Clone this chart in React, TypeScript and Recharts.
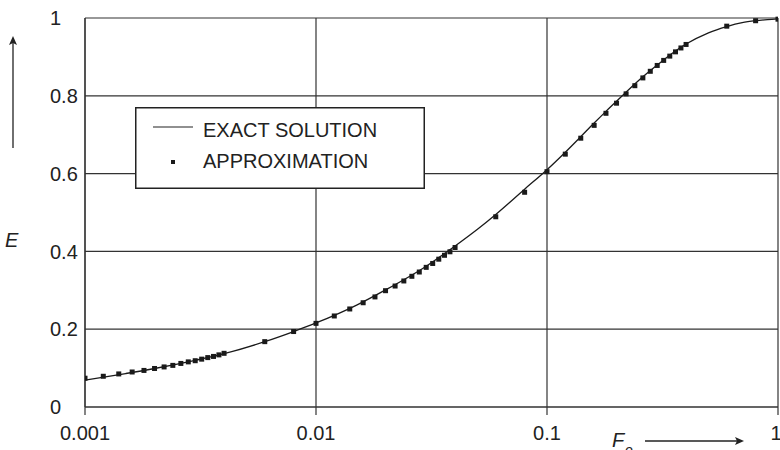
import React from 'react';
import { ComposedChart, Line, Scatter, XAxis, YAxis, CartesianGrid, Legend, Label } from 'recharts';

// Exact solution
const exactFo = [0.001, 0.0015, 0.002, 0.003, 0.004, 0.006, 0.008, 0.01, 0.015, 0.02, 0.03, 0.04, 0.05, 0.06, 0.08, 0.1, 0.12, 0.14, 0.16, 0.18, 0.2, 0.25, 0.3, 0.35, 0.4, 0.5, 0.6, 0.7, 0.8, 0.9, 1.0];
const exactE = [0.069, 0.086, 0.099, 0.120, 0.137, 0.168, 0.194, 0.216, 0.262, 0.301, 0.362, 0.414, 0.457, 0.495, 0.560, 0.610, 0.655, 0.695, 0.730, 0.760, 0.786, 0.840, 0.879, 0.910, 0.933, 0.962, 0.978, 0.988, 0.993, 0.996, 0.998];

// Approximation (square markers)
const approxFo = [
  0.001, 0.0012, 0.0014, 0.0016, 0.0018, 0.002, 0.0022, 0.0024, 0.0026, 0.0028, 0.003, 0.0032, 0.0034, 0.0036, 0.0038, 0.004,
  0.006, 0.008,
  0.01, 0.012, 0.014, 0.016, 0.018, 0.02, 0.022, 0.024, 0.026, 0.028, 0.03, 0.032, 0.034, 0.036, 0.038, 0.04,
  0.06, 0.08,
  0.1, 0.12, 0.14, 0.16, 0.18, 0.2, 0.22, 0.24, 0.26, 0.28, 0.3, 0.32, 0.34, 0.36, 0.38, 0.4,
  0.6, 0.8, 1.0,
];
const approxE = [
  0.074, 0.079, 0.085, 0.090, 0.094, 0.099, 0.103, 0.107, 0.112, 0.116, 0.119, 0.123, 0.127, 0.130, 0.134, 0.138,
  0.168, 0.194,
  0.215, 0.234, 0.252, 0.268, 0.283, 0.299, 0.311, 0.324, 0.336, 0.347, 0.359, 0.369, 0.380, 0.390, 0.399, 0.410,
  0.489, 0.552,
  0.605, 0.650, 0.691, 0.724, 0.755, 0.781, 0.805, 0.826, 0.846, 0.863, 0.878, 0.891, 0.902, 0.913, 0.923, 0.932,
  0.979, 0.993, 0.997,
];

const xTicks = [0.001, 0.01, 0.1, 1];
const xTickLabels = ['0.001', '0.01', '0.1', '1'];
const yTicks = [0, 0.2, 0.4, 0.6, 0.8, 1];
const yTickLabels = ['0', '0.2', '0.4', '0.6', '0.8', '1'];

const seriesNames = ['EXACT SOLUTION', 'APPROXIMATION'];

const exactData = exactFo.map((fo, i) => ({ fo, e: exactE[i] }));
const approxData = approxFo.map((fo, i) => ({ fo, e: approxE[i] }));

const FONT = '"Liberation Sans", Arial, Helvetica, sans-serif';
const INK = '#222';

const Square = (props: any) => {
  const { cx, cy } = props;
  if (cx == null || cy == null) return null;
  return <rect x={cx - 2.5} y={cy - 2.5} width={5} height={5} fill="#1a1a1a" />;
};

const YTick = (props: any) => {
  const { y, payload } = props;
  const idx = yTicks.indexOf(payload.value);
  return (
    <text x={50} y={y} dy="0.355em" textAnchor="start" fontSize={20} fontFamily={FONT} fill={INK}>
      {idx >= 0 ? yTickLabels[idx] : String(payload.value)}
    </text>
  );
};

const XTick = (props: any) => {
  const { x, y, payload } = props;
  const idx = xTicks.indexOf(payload.value);
  return (
    <text x={x} y={y} dy="0.71em" textAnchor="middle" fontSize={20} fontFamily={FONT} fill={INK}>
      {idx >= 0 ? xTickLabels[idx] : String(payload.value)}
    </text>
  );
};

const YLabel = () => (
  <g>
    <line x1={13} y1={148} x2={13} y2={43} stroke={INK} strokeWidth={1.3} />
    <polygon points="13,36 9,45 13,43 17,45" fill={INK} />
    <text x={5} y={247} fontSize={20} fontStyle="italic" fontFamily={FONT} fill={INK}>E</text>
  </g>
);

const XLabel = () => (
  <g>
    <text x={612} y={447} fontSize={20} fontStyle="italic" fontFamily={FONT} fill={INK}>F</text>
    <text x={625} y={455} fontSize={14} fontStyle="italic" fontFamily={FONT} fill={INK}>o</text>
    <line x1={645} y1={441} x2={737} y2={441} stroke={INK} strokeWidth={1.3} />
    <polygon points="744,441 735,437 737,441 735,445" fill={INK} />
  </g>
);

const LegendBox = () => (
  <svg width={290} height={82} style={{ display: 'block' }}>
    <rect x={0.75} y={0.75} width={288.5} height={80.5} fill="#fff" stroke={INK} strokeWidth={1.5} />
    <line x1={18} y1={20} x2={58} y2={20} stroke={INK} strokeWidth={1.2} />
    <text x={68} y={30} fontSize={20} fontFamily={FONT} fill={INK}>{seriesNames[0]}</text>
    <rect x={36} y={53} width={4} height={4} fill="#1a1a1a" />
    <text x={68} y={61} fontSize={20} fontFamily={FONT} fill={INK}>{seriesNames[1]}</text>
  </svg>
);

export default function App() {
  return (
    <div style={{ position: 'absolute', left: 0, top: 0, width: 780, height: 450, overflow: 'hidden', background: '#fff' }}>
      <ComposedChart width={780} height={450} margin={{ top: 18, right: 2, left: 0, bottom: 0 }}>
        <CartesianGrid stroke="#333" strokeWidth={1.2} horizontal vertical />
        <XAxis
          dataKey="fo"
          type="number"
          scale="log"
          domain={[0.001, 1]}
          ticks={xTicks}
          allowDataOverflow
          height={43}
          tickSize={8}
          tickMargin={11}
          tick={<XTick />}
          axisLine={{ stroke: '#333', strokeWidth: 1.2 }}
          tickLine={{ stroke: '#333', strokeWidth: 1.2 }}
        >
          <Label content={<XLabel />} />
        </XAxis>
        <YAxis
          type="number"
          domain={[0, 1]}
          ticks={yTicks}
          width={85}
          tickLine={false}
          tick={<YTick />}
          axisLine={{ stroke: '#333', strokeWidth: 1.2 }}
        >
          <Label content={<YLabel />} />
        </YAxis>
        <Line
          data={exactData}
          dataKey="e"
          type="monotone"
          stroke="#1a1a1a"
          strokeWidth={1.3}
          dot={false}
          activeDot={false}
          isAnimationActive={false}
          name={seriesNames[0]}
        />
        <Scatter
          data={approxData}
          dataKey="e"
          shape={<Square />}
          isAnimationActive={false}
          name={seriesNames[1]}
        />
        <Legend
          layout="vertical"
          align="center"
          verticalAlign="middle"
          content={<LegendBox />}
          wrapperStyle={{ position: 'absolute', left: 135, top: 107, width: 290, height: 82 }}
        />
      </ComposedChart>
    </div>
  );
}
